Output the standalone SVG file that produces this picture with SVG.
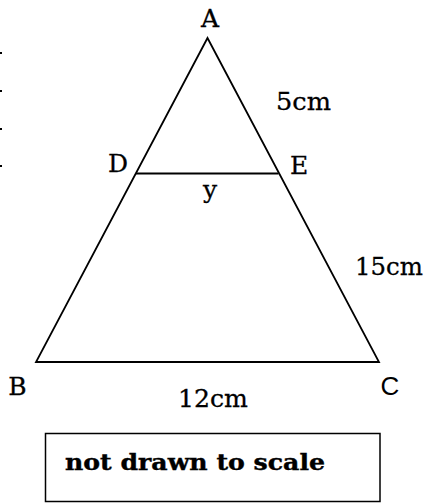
<svg xmlns="http://www.w3.org/2000/svg" width="427" height="503" viewBox="0 0 427 503">
<style>
.ln{stroke:#000;stroke-width:1.8;fill:none;stroke-linejoin:miter}
.lb{font-family:"DejaVu Serif","Liberation Serif",serif;font-size:25px;fill:#000;stroke:#000;stroke-width:0.3}
.sans{font-family:"Liberation Sans","DejaVu Sans",sans-serif;font-size:26px;fill:#000}
.bold{font-family:"DejaVu Serif","Liberation Serif",serif;font-size:23px;font-weight:bold;fill:#000;stroke:#000;stroke-width:0.4}
</style>
<rect width="427" height="503" fill="#fff"/>
<g id="margin-dots" fill="#000">
<rect x="0" y="52" width="2" height="2"/>
<rect x="0" y="90" width="2" height="2"/>
<rect x="0" y="128" width="2" height="2"/>
<rect x="0" y="165" width="2" height="2"/>
</g>
<g id="connectors">
<polygon class="ln" points="207.5,38 36,362 379,362"/>
<line class="ln" x1="136" y1="173.5" x2="278.5" y2="173.5"/>
</g>
<g id="node-A"><text class="lb" x="210" y="27" text-anchor="middle">A</text></g>
<g id="node-D"><text class="lb" x="118" y="172" text-anchor="middle">D</text></g>
<g id="node-E"><text class="lb" x="299" y="174" text-anchor="middle">E</text></g>
<g id="node-B"><text class="lb" x="17.5" y="395" text-anchor="middle">B</text></g>
<g id="node-C"><text class="sans" x="390" y="395" text-anchor="middle">C</text></g>
<g id="label-5cm"><text class="lb" x="276" y="110" textLength="55" lengthAdjust="spacingAndGlyphs">5cm</text></g>
<g id="label-y"><text class="lb" x="210" y="198" text-anchor="middle">y</text></g>
<g id="label-15cm"><text class="lb" x="355" y="275" textLength="68" lengthAdjust="spacingAndGlyphs">15cm</text></g>
<g id="label-12cm"><text class="lb" x="178" y="407" textLength="70" lengthAdjust="spacingAndGlyphs">12cm</text></g>
<g id="note">
<rect x="45.5" y="433.5" width="334.5" height="68" fill="none" stroke="#000" stroke-width="1.5"/>
<text class="bold" x="65" y="470" textLength="260" lengthAdjust="spacingAndGlyphs">not drawn to scale</text>
</g>
</svg>
